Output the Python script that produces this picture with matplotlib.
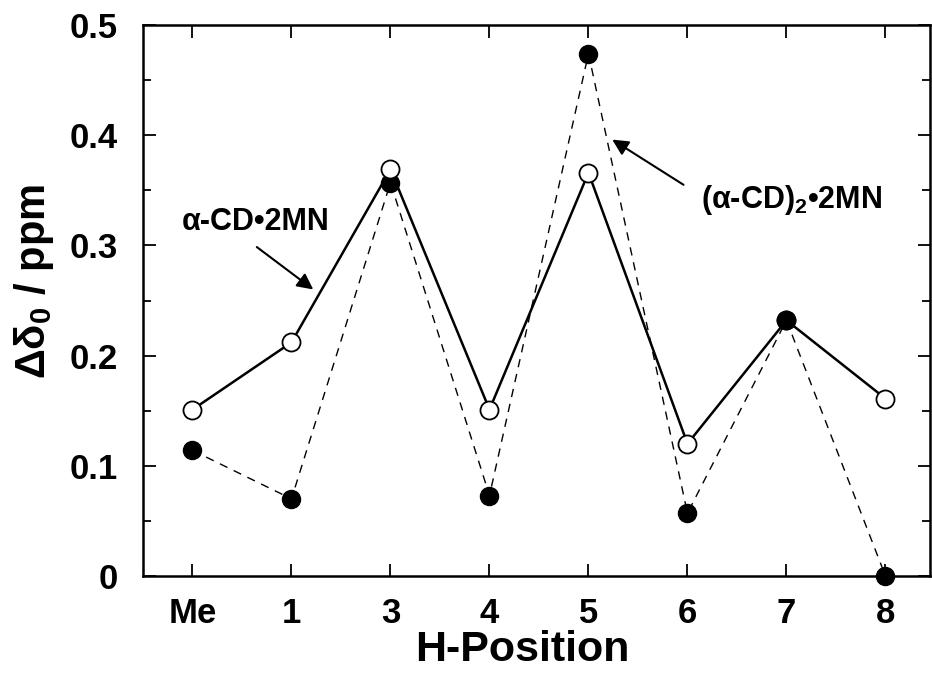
import matplotlib
matplotlib.use("Agg")
import matplotlib.pyplot as plt

positions = ["Me", "1", "3", "4", "5", "6", "7", "8"]
mono = [0.151, 0.212, 0.369, 0.151, 0.366, 0.120, 0.232, 0.161]   # alpha-CD.2MN (open)
dimer = [0.114, 0.070, 0.357, 0.073, 0.474, 0.057, 0.232, 0.0]    # (alpha-CD)2.2MN (filled)
yticks = [0, 0.1, 0.2, 0.3, 0.4, 0.5]
yticklabels = ["0", "0.1", "0.2", "0.3", "0.4", "0.5"]
yminor = [0.05, 0.15, 0.25, 0.35, 0.45]

x = list(range(len(positions)))
FONT = ['Liberation Sans Narrow', 'Liberation Sans', 'DejaVu Sans']
plt.rcParams['mathtext.fontset'] = 'custom'
plt.rcParams['mathtext.rm'] = 'Liberation Sans:bold'
plt.rcParams['mathtext.bf'] = 'Liberation Sans:bold'

fig = plt.figure(figsize=(9.32, 6.82), dpi=100)
ax = fig.add_axes([143/932, 1-576/682, (930-143)/932, (576-25)/682])

ax.plot(x, dimer, color='black', lw=1.0, dashes=(6, 5), zorder=2)
ax.plot(x, mono, '-', color='black', lw=1.8, zorder=2)
ax.plot(x, dimer, 'o', ms=13, mfc='black', mec='black', zorder=3, clip_on=False)
ax.plot(x, mono, 'o', ms=13, mfc='white', mec='black', mew=1.3, zorder=4, clip_on=False)
ax.plot([x[6]], [dimer[6]], 'o', ms=13, mfc='black', mec='black', zorder=5)

ax.set_xlim(-0.5, 7.45)
ax.set_ylim(0, 0.5)
ax.set_xticks(x)
ax.set_xticklabels(positions)
ax.set_yticks(yticks)
ax.set_yticklabels(yticklabels)
ax.set_yticks(yminor, minor=True)

for s in ax.spines.values():
    s.set_linewidth(1.8)

ax.tick_params(axis='both', which='both', direction='in', top=True, right=True, width=1.3)
ax.tick_params(axis='both', which='major', length=9)
ax.tick_params(axis='y', which='minor', length=6)
ax.tick_params(axis='y', labelsize=25, pad=18)
ax.tick_params(axis='x', labelsize=25, pad=15)
for lab in ax.get_yticklabels() + ax.get_xticklabels():
    lab.set_fontfamily(FONT)
    lab.set_fontweight('bold')

ax.set_xlabel("H-Position", fontsize=31, fontweight='bold', family=FONT)
ax.xaxis.set_label_coords(0.4815, -0.098)
ax.set_ylabel("Δδ$_{0}$ / ppm", fontsize=30, fontweight='bold', family=FONT)
ax.yaxis.set_label_coords(-0.1385, 0.534)
ax.yaxis.label.set_va('center')

ax.text(0.64, 0.321, "α-CD•2MN", fontsize=22, fontweight='bold',
        family=FONT, ha='center', va='center')
ax.annotate("", xy=(1.22, 0.260), xytext=(0.65, 0.2985),
            arrowprops=dict(arrowstyle='-|>', color='black', lw=1.5, mutation_scale=24,
                            shrinkA=0, shrinkB=0))

ax.text(5.14, 0.341, "(α-CD)$_{2}$•2MN", fontsize=22, fontweight='bold',
        family=FONT, ha='left', va='center')
ax.annotate("", xy=(4.24, 0.396), xytext=(4.96, 0.355),
            arrowprops=dict(arrowstyle='-|>', color='black', lw=1.5, mutation_scale=24,
                            shrinkA=0, shrinkB=0))

fig.savefig("out.png", dpi=100)
